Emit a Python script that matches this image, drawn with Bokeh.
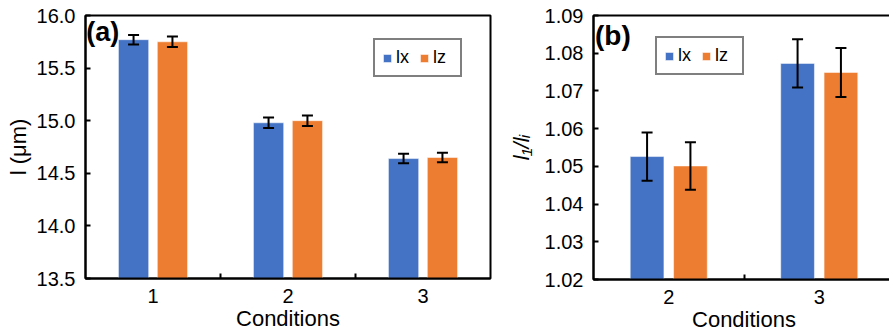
from bokeh.plotting import figure
from bokeh.models import (ColumnDataSource, Range1d, FixedTicker, Whisker, TeeHead,
                          Label, Legend, LegendItem, PrintfTickFormatter)
from bokeh.transform import dodge
from bokeh.layouts import row
from bokeh.embed import file_html
from bokeh.resources import INLINE

# ---------------- data ----------------
cond_a = [1, 2, 3]
cond_a_labels = ["1", "2", "3"]
lx_a = [15.77, 14.98, 14.64]
lz_a = [15.75, 15.00, 14.65]
lx_a_err = [0.045, 0.05, 0.045]
lz_a_err = [0.05, 0.05, 0.045]
yticks_a = [13.5, 14.0, 14.5, 15.0, 15.5, 16.0]

cond_b = [2, 3]
cond_b_labels = ["2", "3"]
lx_b = [1.0526, 1.0773]
lz_b = [1.0501, 1.0749]
lx_b_err = [0.0064, 0.0064]
lz_b_err = [0.0063, 0.0065]
yticks_b = [1.02, 1.03, 1.04, 1.05, 1.06, 1.07, 1.08, 1.09]

series_names = ["lx", "lz"]
BLUE = "#4472C4"
ORANGE = "#ED7D31"
FONT = "Liberation Sans"


def make_panel(cond, labels, lx, lz, ex, ez, yticks, yfmt, fw, fh, mbl, mbr,
               legend_loc, tag, tag_xy, tag_size, ylabel):
    x0, x1 = cond[0] - 0.5, cond[-1] + 0.5
    p = figure(x_range=Range1d(x0, x1), y_range=Range1d(yticks[0], yticks[-1]),
               frame_width=fw, frame_height=fh, min_border_left=mbl, min_border_right=mbr,
               min_border_top=15, min_border_bottom=53,
               output_backend="svg", toolbar_location=None)
    p.background_fill_color = "white"
    p.border_fill_color = "white"
    p.outline_line_color = "black"
    p.outline_line_width = 2
    p.xgrid.visible = False
    p.ygrid.visible = False

    src = ColumnDataSource(dict(
        x=cond, lx=lx, lz=lz,
        lx_up=[v + e for v, e in zip(lx, ex)], lx_lo=[v - e for v, e in zip(lx, ex)],
        lz_up=[v + e for v, e in zip(lz, ez)], lz_lo=[v - e for v, e in zip(lz, ez)],
    ))
    off, bw = 0.144, 0.224
    r1 = p.vbar(x=dodge("x", -off), top="lx", bottom=yticks[0], width=bw, source=src,
                fill_color=BLUE, line_color="white", line_alpha=0.5, line_width=1)
    r2 = p.vbar(x=dodge("x", off), top="lz", bottom=yticks[0], width=bw, source=src,
                fill_color=ORANGE, line_color="white", line_alpha=0.5, line_width=1)
    for key, o in (("lx", -off), ("lz", off)):
        w = Whisker(source=src, base=dodge("x", o), upper=key + "_up", lower=key + "_lo",
                    dimension="height", line_color="black", line_width=2, level="overlay",
                    upper_head=TeeHead(size=11, line_width=2, line_color="black"),
                    lower_head=TeeHead(size=11, line_width=2, line_color="black"))
        p.add_layout(w)

    # axes
    xa = p.xaxis[0]
    xa.ticker = FixedTicker(ticks=cond, minor_ticks=[c + 0.5 for c in cond[:-1]])
    xa.major_label_overrides = {c: l for c, l in zip(cond, labels)}
    xa.major_tick_in = 0
    xa.major_tick_out = 0
    xa.minor_tick_in = 5
    xa.minor_tick_out = 0
    xa.minor_tick_line_width = 2
    xa.minor_tick_line_color = "black"
    xa.axis_label = "Conditions"
    xa.axis_label_text_font_style = "normal"
    xa.axis_label_standoff = 0
    xa.major_label_standoff = 10

    ya = p.yaxis[0]
    ya.ticker = FixedTicker(ticks=yticks, minor_ticks=[])
    ya.formatter = PrintfTickFormatter(format=yfmt)
    ya.major_tick_in = 5
    ya.major_tick_out = 0
    ya.major_tick_line_width = 2
    ya.major_tick_line_color = "black"
    ya.major_label_standoff = 10
    ya.axis_label = ylabel
    ya.axis_label_text_font_style = "italic"
    ya.axis_label_standoff = 8

    for ax in (xa, ya):
        ax.axis_line_color = "black"
        ax.axis_line_width = 2
        ax.major_label_text_font = FONT
        ax.major_label_text_font_size = "20px"
        ax.major_label_text_color = "black"
        ax.axis_label_text_font = FONT
        ax.axis_label_text_font_size = "22px"
        ax.axis_label_text_color = "black"

    legend = Legend(items=[LegendItem(label=series_names[0], renderers=[r1]),
                           LegendItem(label=series_names[1], renderers=[r2])],
                    location=legend_loc, orientation="horizontal",
                    border_line_color="black", border_line_width=2,
                    background_fill_color="white", background_fill_alpha=1,
                    glyph_width=10, glyph_height=10, label_height=14,
                    label_standoff=4, spacing=3, padding=7, margin=0,
                    label_text_font=FONT, label_text_font_size="18px",
                    label_text_color="black")
    p.add_layout(legend)

    p.add_layout(Label(x=tag_xy[0], y=tag_xy[1], text=tag, text_font=FONT,
                       text_font_size=tag_size, text_font_style="bold",
                       text_baseline="top", text_align="left", text_color="black"))
    return p


pa = make_panel(cond_a, cond_a_labels, lx_a, lz_a, lx_a_err, lz_a_err, yticks_a, "%.1f",
                405, 263, 85, 15, (288, 201), "(a)", (0.505, 15.99), "27px", "l (μm)")
pa.yaxis[0].axis_label_text_font_style = "normal"
pa.yaxis[0].axis_label_standoff = 3

pb = make_panel(cond_b, cond_b_labels, lx_b, lz_b, lx_b_err, lz_b_err, yticks_b, "%.2f",
                301, 264, 82, 1, (62, 204), "(b)", (1.51, 1.0887), "28px", "l₁/lᵢ")

layout = row(pa, pb, spacing=0)
open("out.html", "w").write(file_html(layout, INLINE))
